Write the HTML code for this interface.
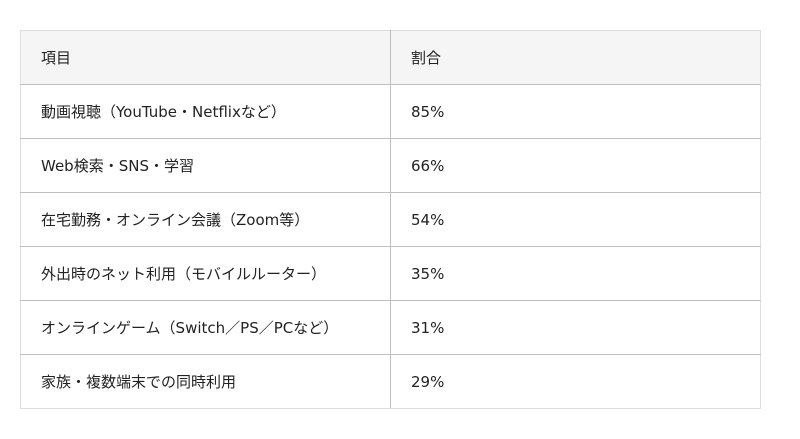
<!DOCTYPE html>
<html><head><meta charset="utf-8"><style>
html,body{margin:0;padding:0;background:#fff;width:800px;height:439px;overflow:hidden}
table{position:absolute;left:20px;top:30px;width:741px;border-collapse:collapse;
font-family:"DejaVu Sans","Noto Sans CJK JP",sans-serif;font-size:15px;color:#222}
td{height:54px;padding:0 0 0 20px;border:1px solid #bfbfbf;vertical-align:middle;box-sizing:border-box}
tr:first-child td{background:#f5f5f5}
td:first-child{width:370px}
table{border:1px solid #dddddd}
tr:first-child td{border-top:1px solid #dddddd}
tr:last-child td{border-bottom:1px solid #dddddd}
td:first-child{border-left:1px solid #dddddd}
td:last-child{border-right:1px solid #dddddd}
</style></head><body>
<table>
<tr><td>項目</td><td>割合</td></tr>
<tr><td>動画視聴（YouTube・Netflixなど）</td><td>85%</td></tr>
<tr><td>Web検索・SNS・学習</td><td>66%</td></tr>
<tr><td>在宅勤務・オンライン会議（Zoom等）</td><td>54%</td></tr>
<tr><td>外出時のネット利用（モバイルルーター）</td><td>35%</td></tr>
<tr><td>オンラインゲーム（Switch／PS／PCなど）</td><td>31%</td></tr>
<tr><td>家族・複数端末での同時利用</td><td>29%</td></tr>
</table>
</body></html>
